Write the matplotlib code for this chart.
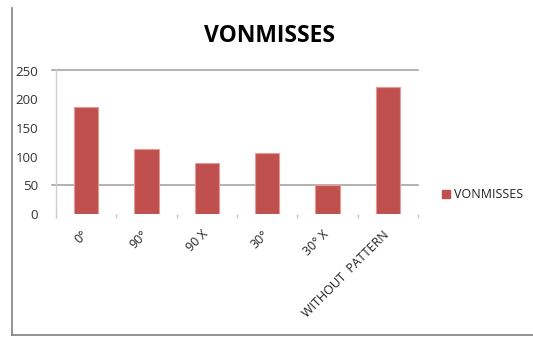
import matplotlib
matplotlib.use("Agg")
import matplotlib.pyplot as plt
import matplotlib.transforms as mtransforms
from matplotlib.lines import Line2D
import numpy as np

categories = ["0°", "90°", "90 X", "30°", "30° X", "WITHOUT  PATTERN"]
values = [186, 113, 88, 106, 50, 222]
series_name = "VONMISSES"
title = "VONMISSES"
yticks = [0, 50, 100, 150, 200, 250]

BAR = "#C0504D"
EDGE = "#E39A98"
GRID = "#A6A6A6"
TXT = "#333333"
FONT = "Open Sans"

fig = plt.figure(figsize=(5.33, 3.37), dpi=100)
ax = fig.add_axes([56/533, 1-214/337, (418-56)/533, (214-70.5)/337])

x = np.arange(len(categories))
ax.bar(x, values, width=0.4, color=BAR, edgecolor=EDGE, linewidth=0.8, zorder=3, label=series_name)
ax.set_xlim(-0.5, len(categories)-0.5)
ax.set_ylim(0, 250)

for s in ["top", "right", "bottom"]:
    ax.spines[s].set_visible(False)
ax.spines["left"].set_color("#D0D0D0")
ax.spines["left"].set_linewidth(1.0)

# gridlines visible at 50 and 250
for yv in [50, 250]:
    ax.add_line(Line2D([-0.012, 1.0], [yv, yv], transform=ax.get_yaxis_transform(),
                       color=GRID, linewidth=1.2, clip_on=False, zorder=2))

ax.set_yticks(yticks)
ax.set_yticklabels([str(v) for v in yticks], fontsize=9.5, color=TXT, family=FONT)
ax.tick_params(axis="y", length=0, pad=13)

ax.set_xticks(x)
ax.set_xticklabels(categories, rotation=45, ha="right", va="top", fontsize=9,
                   color="#222222", family=FONT)
ax.tick_params(axis="x", length=0, pad=10)
shift = mtransforms.ScaledTranslation(4/100, 0, fig.dpi_scale_trans)
for lbl in ax.get_xticklabels():
    lbl.set_transform(lbl.get_transform() + shift)
ax.set_xticks(np.arange(len(categories)+1)-0.5, minor=True)
ax.tick_params(axis="x", which="minor", length=3, color="#C8C8C8", width=1)

leg = fig.legend(handles=[plt.Rectangle((0, 0), 1, 1, color=BAR)], labels=[series_name],
                 loc="center left", bbox_to_anchor=(431/533, 1-195/337), frameon=False,
                 handlelength=0.6, handleheight=0.6, handletextpad=0.3,
                 prop={"family": FONT, "size": 9})
for t in leg.get_texts():
    t.set_color("#222222")

fig.text(269/533, 1-36/337, title, ha="center", va="center", fontsize=16.5,
         fontweight="bold", family=FONT, color="#000000")

# outer chart border (partially visible)
fig.add_artist(Line2D([11.5/533, 11.5/533], [1-8/337, 1-335/337], transform=fig.transFigure,
                      color="#808080", linewidth=1.2))
fig.add_artist(Line2D([11.5/533, 1.0], [1-335/337, 1-335/337], transform=fig.transFigure,
                      color="#808080", linewidth=1.2))

fig.savefig("out.png", dpi=100)
